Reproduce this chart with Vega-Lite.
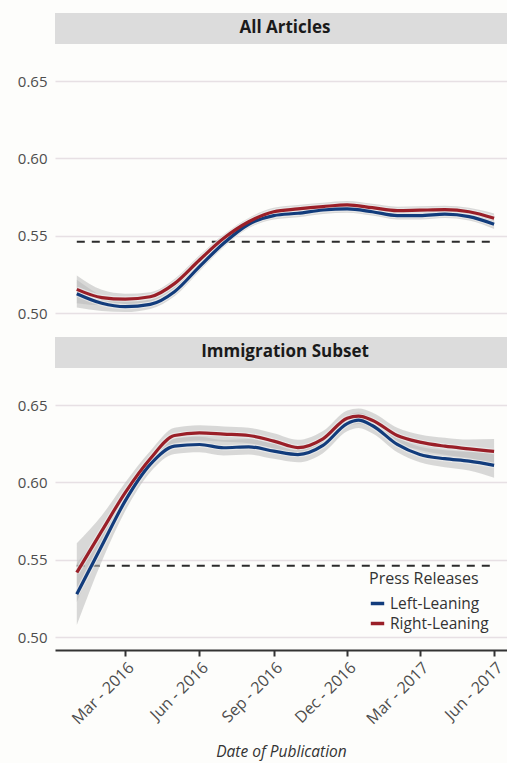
{
  "$schema": "https://vega.github.io/schema/vega-lite/v6.json",
  "background": "#fdfdfb",
  "padding": {"left": 17, "top": 13, "right": 0, "bottom": 2},
  "spacing": 11,
  "datasets": {
    "series": [
      {"panel": "All Articles", "group": "Left-Leaning", "date": "2016-01-01", "v": 0.5125, "lo": 0.5035, "hi": 0.5215},
      {"panel": "All Articles", "group": "Left-Leaning", "date": "2016-02-01", "v": 0.5063, "lo": 0.5013, "hi": 0.5113},
      {"panel": "All Articles", "group": "Left-Leaning", "date": "2016-03-01", "v": 0.5041, "lo": 0.5006, "hi": 0.5076},
      {"panel": "All Articles", "group": "Left-Leaning", "date": "2016-04-01", "v": 0.5056, "lo": 0.5026, "hi": 0.5086},
      {"panel": "All Articles", "group": "Left-Leaning", "date": "2016-05-01", "v": 0.5138, "lo": 0.5108, "hi": 0.5168},
      {"panel": "All Articles", "group": "Left-Leaning", "date": "2016-06-01", "v": 0.5300, "lo": 0.5270, "hi": 0.5330},
      {"panel": "All Articles", "group": "Left-Leaning", "date": "2016-07-01", "v": 0.5451, "lo": 0.5426, "hi": 0.5476},
      {"panel": "All Articles", "group": "Left-Leaning", "date": "2016-08-01", "v": 0.5574, "lo": 0.5549, "hi": 0.5599},
      {"panel": "All Articles", "group": "Left-Leaning", "date": "2016-09-01", "v": 0.5630, "lo": 0.5605, "hi": 0.5655},
      {"panel": "All Articles", "group": "Left-Leaning", "date": "2016-10-01", "v": 0.5645, "lo": 0.5620, "hi": 0.5670},
      {"panel": "All Articles", "group": "Left-Leaning", "date": "2016-11-01", "v": 0.5666, "lo": 0.5641, "hi": 0.5691},
      {"panel": "All Articles", "group": "Left-Leaning", "date": "2016-12-01", "v": 0.5673, "lo": 0.5648, "hi": 0.5698},
      {"panel": "All Articles", "group": "Left-Leaning", "date": "2017-01-01", "v": 0.5655, "lo": 0.5630, "hi": 0.5680},
      {"panel": "All Articles", "group": "Left-Leaning", "date": "2017-02-01", "v": 0.5630, "lo": 0.5605, "hi": 0.5655},
      {"panel": "All Articles", "group": "Left-Leaning", "date": "2017-03-01", "v": 0.5630, "lo": 0.5605, "hi": 0.5655},
      {"panel": "All Articles", "group": "Left-Leaning", "date": "2017-04-01", "v": 0.5639, "lo": 0.5614, "hi": 0.5664},
      {"panel": "All Articles", "group": "Left-Leaning", "date": "2017-05-01", "v": 0.5623, "lo": 0.5598, "hi": 0.5648},
      {"panel": "All Articles", "group": "Left-Leaning", "date": "2017-06-01", "v": 0.5574, "lo": 0.5544, "hi": 0.5604},

      {"panel": "All Articles", "group": "Right-Leaning", "date": "2016-01-01", "v": 0.5153, "lo": 0.5063, "hi": 0.5243},
      {"panel": "All Articles", "group": "Right-Leaning", "date": "2016-02-01", "v": 0.5100, "lo": 0.5050, "hi": 0.5150},
      {"panel": "All Articles", "group": "Right-Leaning", "date": "2016-03-01", "v": 0.5090, "lo": 0.5055, "hi": 0.5125},
      {"panel": "All Articles", "group": "Right-Leaning", "date": "2016-04-01", "v": 0.5105, "lo": 0.5075, "hi": 0.5135},
      {"panel": "All Articles", "group": "Right-Leaning", "date": "2016-05-01", "v": 0.5190, "lo": 0.5160, "hi": 0.5220},
      {"panel": "All Articles", "group": "Right-Leaning", "date": "2016-06-01", "v": 0.5343, "lo": 0.5313, "hi": 0.5373},
      {"panel": "All Articles", "group": "Right-Leaning", "date": "2016-07-01", "v": 0.5483, "lo": 0.5458, "hi": 0.5508},
      {"panel": "All Articles", "group": "Right-Leaning", "date": "2016-08-01", "v": 0.5590, "lo": 0.5565, "hi": 0.5615},
      {"panel": "All Articles", "group": "Right-Leaning", "date": "2016-09-01", "v": 0.5655, "lo": 0.5630, "hi": 0.5680},
      {"panel": "All Articles", "group": "Right-Leaning", "date": "2016-10-01", "v": 0.5673, "lo": 0.5648, "hi": 0.5698},
      {"panel": "All Articles", "group": "Right-Leaning", "date": "2016-11-01", "v": 0.5688, "lo": 0.5663, "hi": 0.5713},
      {"panel": "All Articles", "group": "Right-Leaning", "date": "2016-12-01", "v": 0.5699, "lo": 0.5674, "hi": 0.5724},
      {"panel": "All Articles", "group": "Right-Leaning", "date": "2017-01-01", "v": 0.5681, "lo": 0.5656, "hi": 0.5706},
      {"panel": "All Articles", "group": "Right-Leaning", "date": "2017-02-01", "v": 0.5662, "lo": 0.5637, "hi": 0.5687},
      {"panel": "All Articles", "group": "Right-Leaning", "date": "2017-03-01", "v": 0.5665, "lo": 0.5640, "hi": 0.5690},
      {"panel": "All Articles", "group": "Right-Leaning", "date": "2017-04-01", "v": 0.5668, "lo": 0.5643, "hi": 0.5693},
      {"panel": "All Articles", "group": "Right-Leaning", "date": "2017-05-01", "v": 0.5655, "lo": 0.5630, "hi": 0.5680},
      {"panel": "All Articles", "group": "Right-Leaning", "date": "2017-06-01", "v": 0.5613, "lo": 0.5583, "hi": 0.5643},

      {"panel": "Immigration Subset", "group": "Left-Leaning", "date": "2016-01-01", "v": 0.5277, "lo": 0.5077, "hi": 0.5477},
      {"panel": "Immigration Subset", "group": "Left-Leaning", "date": "2016-02-01", "v": 0.5590, "lo": 0.5490, "hi": 0.5690},
      {"panel": "Immigration Subset", "group": "Left-Leaning", "date": "2016-03-01", "v": 0.5880, "lo": 0.5815, "hi": 0.5945},
      {"panel": "Immigration Subset", "group": "Left-Leaning", "date": "2016-04-01", "v": 0.6116, "lo": 0.6066, "hi": 0.6166},
      {"panel": "Immigration Subset", "group": "Left-Leaning", "date": "2016-05-01", "v": 0.6234, "lo": 0.6184, "hi": 0.6284},
      {"panel": "Immigration Subset", "group": "Left-Leaning", "date": "2016-06-01", "v": 0.6245, "lo": 0.6195, "hi": 0.6295},
      {"panel": "Immigration Subset", "group": "Left-Leaning", "date": "2016-07-01", "v": 0.6224, "lo": 0.6174, "hi": 0.6274},
      {"panel": "Immigration Subset", "group": "Left-Leaning", "date": "2016-08-01", "v": 0.6230, "lo": 0.6180, "hi": 0.6280},
      {"panel": "Immigration Subset", "group": "Left-Leaning", "date": "2016-09-01", "v": 0.6202, "lo": 0.6152, "hi": 0.6252},
      {"panel": "Immigration Subset", "group": "Left-Leaning", "date": "2016-10-01", "v": 0.6180, "lo": 0.6130, "hi": 0.6230},
      {"panel": "Immigration Subset", "group": "Left-Leaning", "date": "2016-11-01", "v": 0.6239, "lo": 0.6189, "hi": 0.6289},
      {"panel": "Immigration Subset", "group": "Left-Leaning", "date": "2016-12-01", "v": 0.6380, "lo": 0.6330, "hi": 0.6430},
      {"panel": "Immigration Subset", "group": "Left-Leaning", "date": "2016-12-15", "v": 0.6402, "lo": 0.6352, "hi": 0.6452},
      {"panel": "Immigration Subset", "group": "Left-Leaning", "date": "2017-01-01", "v": 0.6368, "lo": 0.6318, "hi": 0.6418},
      {"panel": "Immigration Subset", "group": "Left-Leaning", "date": "2017-02-01", "v": 0.6245, "lo": 0.6195, "hi": 0.6295},
      {"panel": "Immigration Subset", "group": "Left-Leaning", "date": "2017-03-01", "v": 0.6180, "lo": 0.6130, "hi": 0.6230},
      {"panel": "Immigration Subset", "group": "Left-Leaning", "date": "2017-04-01", "v": 0.6153, "lo": 0.6098, "hi": 0.6208},
      {"panel": "Immigration Subset", "group": "Left-Leaning", "date": "2017-05-01", "v": 0.6137, "lo": 0.6077, "hi": 0.6197},
      {"panel": "Immigration Subset", "group": "Left-Leaning", "date": "2017-06-01", "v": 0.6110, "lo": 0.6030, "hi": 0.6190},

      {"panel": "Immigration Subset", "group": "Right-Leaning", "date": "2016-01-01", "v": 0.5417, "lo": 0.5227, "hi": 0.5607},
      {"panel": "Immigration Subset", "group": "Right-Leaning", "date": "2016-02-01", "v": 0.5686, "lo": 0.5586, "hi": 0.5786},
      {"panel": "Immigration Subset", "group": "Right-Leaning", "date": "2016-03-01", "v": 0.5934, "lo": 0.5869, "hi": 0.5999},
      {"panel": "Immigration Subset", "group": "Right-Leaning", "date": "2016-04-01", "v": 0.6153, "lo": 0.6103, "hi": 0.6203},
      {"panel": "Immigration Subset", "group": "Right-Leaning", "date": "2016-05-01", "v": 0.6303, "lo": 0.6253, "hi": 0.6353},
      {"panel": "Immigration Subset", "group": "Right-Leaning", "date": "2016-06-01", "v": 0.6320, "lo": 0.6270, "hi": 0.6370},
      {"panel": "Immigration Subset", "group": "Right-Leaning", "date": "2016-07-01", "v": 0.6312, "lo": 0.6262, "hi": 0.6362},
      {"panel": "Immigration Subset", "group": "Right-Leaning", "date": "2016-08-01", "v": 0.6303, "lo": 0.6253, "hi": 0.6353},
      {"panel": "Immigration Subset", "group": "Right-Leaning", "date": "2016-09-01", "v": 0.6267, "lo": 0.6217, "hi": 0.6317},
      {"panel": "Immigration Subset", "group": "Right-Leaning", "date": "2016-10-01", "v": 0.6225, "lo": 0.6175, "hi": 0.6275},
      {"panel": "Immigration Subset", "group": "Right-Leaning", "date": "2016-11-01", "v": 0.6282, "lo": 0.6232, "hi": 0.6332},
      {"panel": "Immigration Subset", "group": "Right-Leaning", "date": "2016-12-01", "v": 0.6415, "lo": 0.6365, "hi": 0.6465},
      {"panel": "Immigration Subset", "group": "Right-Leaning", "date": "2016-12-15", "v": 0.6428, "lo": 0.6378, "hi": 0.6478},
      {"panel": "Immigration Subset", "group": "Right-Leaning", "date": "2017-01-01", "v": 0.6402, "lo": 0.6352, "hi": 0.6452},
      {"panel": "Immigration Subset", "group": "Right-Leaning", "date": "2017-02-01", "v": 0.6303, "lo": 0.6253, "hi": 0.6353},
      {"panel": "Immigration Subset", "group": "Right-Leaning", "date": "2017-03-01", "v": 0.6260, "lo": 0.6210, "hi": 0.6310},
      {"panel": "Immigration Subset", "group": "Right-Leaning", "date": "2017-04-01", "v": 0.6234, "lo": 0.6179, "hi": 0.6289},
      {"panel": "Immigration Subset", "group": "Right-Leaning", "date": "2017-05-01", "v": 0.6217, "lo": 0.6157, "hi": 0.6277},
      {"panel": "Immigration Subset", "group": "Right-Leaning", "date": "2017-06-01", "v": 0.6200, "lo": 0.6120, "hi": 0.6280}
    ],
    "reference": [
      {"panel": "All Articles", "start": "2016-01-01", "end": "2017-06-01", "level": 0.546},
      {"panel": "Immigration Subset", "start": "2016-01-01", "end": "2017-06-01", "level": 0.546}
    ]
  },
  "config": {
    "font": "Open Sans",
    "view": {"stroke": null},
    "axis": {
      "labelFont": "Open Sans",
      "titleFont": "Open Sans",
      "labelColor": "#4d4d4d",
      "labelFontSize": 15,
      "gridColor": "#e7e0e4",
      "gridWidth": 1.5
    },
    "axisY": {"domain": false, "ticks": false, "labelPadding": 8},
    "legend": {
      "labelFont": "Open Sans",
      "titleFont": "Open Sans",
      "labelFontSize": 15.5,
      "titleFontSize": 16,
      "titleFontWeight": "normal",
      "labelColor": "#333333",
      "titleColor": "#333333"
    }
  },
  "resolve": {"legend": {"color": "independent"}},
  "vconcat": [
    {
      "width": 452,
      "height": 313,
      "layer": [
        {
          "data": {"values": [{"panel": "All Articles"}]},
          "mark": {"type": "rect", "fill": "#dcdcdc"},
          "encoding": {
            "y": {"datum": 0.674, "type": "quantitative", "scale": {"domain": [0.4916, 0.694], "nice": false, "zero": false}, "axis": {"values": [0.5, 0.55, 0.6, 0.65], "format": ".2f", "title": null, "grid": true}},
            "y2": {"datum": 0.694}
          }
        },
        {
          "data": {"values": [{"panel": "All Articles"}]},
          "mark": {"type": "text", "font": "Open Sans", "fontWeight": "bold", "fontSize": 17, "color": "#1a1a1a", "dx": 4},
          "encoding": {
            "y": {"datum": 0.684, "type": "quantitative"},
            "text": {"field": "panel"}
          }
        },
        {
          "data": {"name": "reference"},
          "transform": [{"filter": "datum.panel === 'All Articles'"}],
          "mark": {"type": "rule", "color": "#2b2b2b", "strokeWidth": 2, "strokeDash": [8, 7]},
          "encoding": {
            "x": {"field": "start", "type": "temporal", "scale": {"type": "utc", "domain": [{"year": 2015, "month": 12, "date": 5, "utc": true}, {"year": 2017, "month": 6, "date": 17, "utc": true}]}, "axis": null},
            "x2": {"field": "end"},
            "y": {"field": "level", "type": "quantitative"}
          }
        },
        {
          "data": {"name": "series"},
          "transform": [{"filter": "datum.panel === 'All Articles'"}],
          "mark": {"type": "area", "interpolate": "monotone", "color": "#b9b9b9", "opacity": 0.55},
          "encoding": {
            "x": {"field": "date", "type": "temporal"},
            "y": {"field": "lo", "type": "quantitative"},
            "y2": {"field": "hi"},
            "detail": {"field": "group"}
          }
        },
        {
          "data": {"name": "series"},
          "transform": [{"filter": "datum.panel === 'All Articles'"}],
          "mark": {"type": "line", "interpolate": "monotone", "color": "#f4f4f4", "strokeWidth": 5.5, "opacity": 0.6},
          "encoding": {
            "x": {"field": "date", "type": "temporal"},
            "y": {"field": "v", "type": "quantitative"},
            "detail": {"field": "group"}
          }
        },
        {
          "data": {"name": "series"},
          "transform": [{"filter": "datum.panel === 'All Articles'"}],
          "mark": {"type": "line", "interpolate": "monotone", "strokeWidth": 3.2},
          "encoding": {
            "x": {"field": "date", "type": "temporal"},
            "y": {"field": "v", "type": "quantitative"},
            "color": {"field": "group", "type": "nominal", "scale": {"domain": ["Left-Leaning", "Right-Leaning"], "range": ["#123c7c", "#9a1f28"]}, "legend": null}
          }
        }
      ]
    },
    {
      "width": 452,
      "height": 313,
      "layer": [
        {
          "data": {"values": [{"panel": "Immigration Subset"}]},
          "mark": {"type": "rect", "fill": "#dcdcdc"},
          "encoding": {
            "y": {"datum": 0.674, "type": "quantitative", "scale": {"domain": [0.4916, 0.694], "nice": false, "zero": false}, "axis": {"values": [0.5, 0.55, 0.6, 0.65], "format": ".2f", "title": null, "grid": true}},
            "y2": {"datum": 0.694}
          }
        },
        {
          "data": {"values": [{"panel": "Immigration Subset"}]},
          "mark": {"type": "text", "font": "Open Sans", "fontWeight": "bold", "fontSize": 17, "color": "#1a1a1a", "dx": 4},
          "encoding": {
            "y": {"datum": 0.684, "type": "quantitative"},
            "text": {"field": "panel"}
          }
        },
        {
          "data": {"name": "reference"},
          "transform": [{"filter": "datum.panel === 'Immigration Subset'"}],
          "mark": {"type": "rule", "color": "#2b2b2b", "strokeWidth": 2, "strokeDash": [8, 7]},
          "encoding": {
            "x": {
              "field": "start", "type": "temporal",
              "scale": {"type": "utc", "domain": [{"year": 2015, "month": 12, "date": 5, "utc": true}, {"year": 2017, "month": 6, "date": 17, "utc": true}]},
              "axis": {
                "title": "Date of Publication",
                "titleFontStyle": "italic",
                "titleFontWeight": "normal",
                "titleFontSize": 15.5,
                "titleColor": "#333333",
                "titlePadding": 18,
                "values": [
                  {"year": 2016, "month": 3, "date": 1, "utc": true},
                  {"year": 2016, "month": 6, "date": 1, "utc": true},
                  {"year": 2016, "month": 9, "date": 1, "utc": true},
                  {"year": 2016, "month": 12, "date": 1, "utc": true},
                  {"year": 2017, "month": 3, "date": 1, "utc": true},
                  {"year": 2017, "month": 6, "date": 1, "utc": true}
                ],
                "labelExpr": "utcFormat(datum.value, '%b - %Y')",
                "labelFontSize": 16,
                "labelAngle": -45,
                "labelAlign": "right",
                "labelBaseline": "top",
                "labelPadding": 3,
                "grid": false,
                "domain": true,
                "domainColor": "#333333",
                "domainWidth": 2,
                "ticks": true,
                "tickColor": "#333333",
                "tickWidth": 2,
                "tickSize": 6
              }
            },
            "x2": {"field": "end"},
            "y": {"field": "level", "type": "quantitative"}
          }
        },
        {
          "data": {"name": "series"},
          "transform": [{"filter": "datum.panel === 'Immigration Subset'"}],
          "mark": {"type": "area", "interpolate": "monotone", "color": "#b9b9b9", "opacity": 0.55},
          "encoding": {
            "x": {"field": "date", "type": "temporal"},
            "y": {"field": "lo", "type": "quantitative"},
            "y2": {"field": "hi"},
            "detail": {"field": "group"}
          }
        },
        {
          "data": {"name": "series"},
          "transform": [{"filter": "datum.panel === 'Immigration Subset'"}],
          "mark": {"type": "line", "interpolate": "monotone", "color": "#f4f4f4", "strokeWidth": 5.5, "opacity": 0.6},
          "encoding": {
            "x": {"field": "date", "type": "temporal"},
            "y": {"field": "v", "type": "quantitative"},
            "detail": {"field": "group"}
          }
        },
        {
          "data": {"name": "series"},
          "transform": [{"filter": "datum.panel === 'Immigration Subset'"}],
          "mark": {"type": "line", "interpolate": "monotone", "strokeWidth": 3.2},
          "encoding": {
            "x": {"field": "date", "type": "temporal"},
            "y": {"field": "v", "type": "quantitative"},
            "color": {
              "field": "group", "type": "nominal",
              "scale": {"domain": ["Left-Leaning", "Right-Leaning"], "range": ["#123c7c", "#9a1f28"]},
              "legend": {
                "title": "Press Releases",
                "orient": "bottom-right",
                "offset": 18,
                "symbolType": "stroke",
                "symbolSize": 180,
                "symbolStrokeWidth": 3.5,
                "rowPadding": 3,
                "titlePadding": 8
              }
            }
          }
        }
      ]
    }
  ]
}
